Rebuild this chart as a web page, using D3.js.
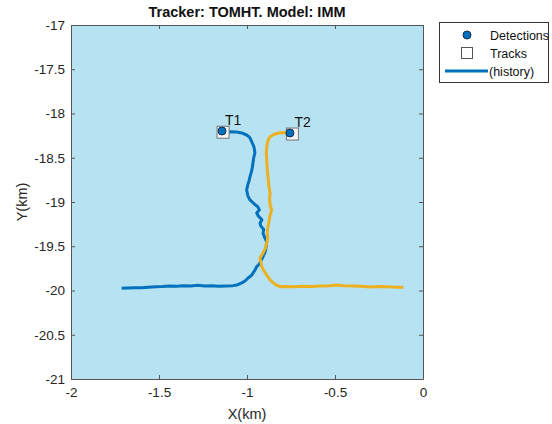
<!DOCTYPE html>
<html>
<head>
<meta charset="utf-8">
<script src="https://cdn.jsdelivr.net/npm/d3@7"></script>
<style>
  body { margin: 0; background: #fff; }
  text { font-family: "Liberation Sans", Arial, sans-serif; }
</style>
</head>
<body>
<svg id="chart" width="552" height="424"></svg>
<script>
// track histories, in km
const track1 = [
  [-1.712,-19.975],[-1.68,-19.972],[-1.64,-19.968],[-1.60,-19.970],[-1.56,-19.962],[-1.52,-19.958],
  [-1.48,-19.955],[-1.44,-19.950],[-1.40,-19.953],[-1.36,-19.945],[-1.32,-19.948],[-1.28,-19.942],
  [-1.24,-19.950],[-1.20,-19.945],[-1.16,-19.952],[-1.12,-19.948],[-1.08,-19.945],[-1.058,-19.938],
  [-1.03,-19.915],[-1.01,-19.89],[-0.994,-19.859],[-0.975,-19.83],[-0.965,-19.80],[-0.952,-19.76],
  [-0.945,-19.731],[-0.93,-19.70],[-0.92,-19.66],[-0.909,-19.618],[-0.898,-19.57],[-0.892,-19.52],
  [-0.888,-19.449],[-0.900,-19.40],[-0.909,-19.350],[-0.905,-19.31],[-0.922,-19.27],[-0.926,-19.237],
  [-0.915,-19.20],[-0.935,-19.16],[-0.945,-19.124],[-0.930,-19.09],[-0.938,-19.056],[-0.960,-19.02],
  [-0.983,-18.977],[-0.995,-18.93],[-1.002,-18.864],[-0.995,-18.80],[-0.988,-18.76],[-0.983,-18.714],
  [-0.975,-18.66],[-0.970,-18.61],[-0.966,-18.559],[-0.962,-18.50],[-0.955,-18.446],[-0.960,-18.38],
  [-0.973,-18.319],[-0.985,-18.27],[-1.002,-18.243],[-1.03,-18.22],[-1.058,-18.209],[-1.10,-18.207],
  [-1.136,-18.209]
]
const track2 = [
  [-0.112,-19.964],[-0.15,-19.962],[-0.2,-19.958],[-0.25,-19.955],[-0.3,-19.960],[-0.35,-19.952],
  [-0.4,-19.948],[-0.45,-19.945],[-0.49,-19.938],[-0.53,-19.945],[-0.58,-19.950],[-0.63,-19.955],
  [-0.68,-19.953],[-0.73,-19.957],[-0.78,-19.955],[-0.813,-19.957],[-0.84,-19.93],[-0.869,-19.881],
  [-0.89,-19.82],[-0.905,-19.77],[-0.916,-19.731],[-0.926,-19.636],[-0.91,-19.58],[-0.895,-19.52],
  [-0.888,-19.463],[-0.882,-19.40],[-0.885,-19.34],[-0.881,-19.279],[-0.875,-19.22],[-0.870,-19.16],
  [-0.860,-19.090],[-0.868,-19.04],[-0.872,-18.97],[-0.869,-18.898],[-0.875,-18.83],[-0.878,-18.77],
  [-0.881,-18.714],[-0.884,-18.65],[-0.886,-18.59],[-0.888,-18.525],[-0.890,-18.45],[-0.888,-18.375],
  [-0.880,-18.30],[-0.869,-18.262],[-0.845,-18.235],[-0.813,-18.217],[-0.78,-18.215],[-0.756,-18.217]
]
const trackNames = ["T1", "T2"]
const detections = [[-1.142,-18.198], [-0.756,-18.220]]
const trackPos = [[-1.136,-18.212], [-0.742,-18.232]]
const xTicks = [-2, -1.5, -1, -0.5, 0]
const yTicks = [-17, -17.5, -18, -18.5, -19, -19.5, -20, -20.5, -21]
const legendLabels = ["Detections", "Tracks", "(history)"]

const colors = ["#0072BD", "#EDB120"]

const svg = d3.select("#chart")
const plot = { left: 71, right: 423, top: 25, bottom: 379 }

const xScale = d3.scaleLinear().domain([-2, 0]).range([plot.left, plot.right])
const yScale = d3.scaleLinear().domain([-21, -17]).range([plot.bottom, plot.top])

// background
svg.append("rect")
  .attr("x", plot.left).attr("y", plot.top)
  .attr("width", plot.right - plot.left).attr("height", plot.bottom - plot.top)
  .attr("fill", "#B7E2F1")

// plain hyphen, as in the original
const fmt = d => String(d)

// axes, ticks inward like matlab
svg.append("g")
  .attr("transform", `translate(0,${plot.bottom})`)
  .call(d3.axisBottom(xScale).tickValues(xTicks).tickSizeInner(-4).tickSizeOuter(0).tickPadding(8).tickFormat(fmt))
svg.append("g")
  .attr("transform", `translate(0,${plot.top})`)
  .call(d3.axisTop(xScale).tickValues(xTicks).tickSizeInner(-4).tickSizeOuter(0).tickFormat(""))
svg.append("g")
  .attr("transform", `translate(${plot.left},0)`)
  .call(d3.axisLeft(yScale).tickValues(yTicks).tickSizeInner(-4).tickSizeOuter(0).tickPadding(6).tickFormat(fmt))
svg.append("g")
  .attr("transform", `translate(${plot.right},0)`)
  .call(d3.axisRight(yScale).tickValues(yTicks).tickSizeInner(-4).tickSizeOuter(0).tickFormat(""))

svg.selectAll(".domain").attr("stroke", "#555")
svg.selectAll(".tick line").attr("stroke", "#555")
svg.selectAll(".tick text").attr("fill", "#262626").style("font-size", "13.5px")
  .style("font-family", "Liberation Sans, Arial, sans-serif")

// labels
svg.append("text").attr("x", (plot.left + plot.right) / 2).attr("y", 17)
  .attr("text-anchor", "middle").style("font-size", "14.5px").style("font-weight", "bold")
  .attr("fill", "#111").text("Tracker: TOMHT. Model: IMM")
svg.append("text").attr("x", (plot.left + plot.right) / 2).attr("y", 419)
  .attr("text-anchor", "middle").style("font-size", "14.5px").attr("fill", "#262626").text("X(km)")
svg.append("text").attr("transform", `translate(27,${(plot.top + plot.bottom) / 2}) rotate(-90)`)
  .attr("text-anchor", "middle").style("font-size", "14.5px").attr("fill", "#262626").text("Y(km)")

// track histories
const line = d3.line().x(d => xScale(d[0])).y(d => yScale(d[1]))
svg.selectAll("path.history")
  .data([track1, track2])
  .enter()
  .append("path")
  .classed("history", true)
  .attr("d", line)
  .attr("fill", "none")
  .attr("stroke", (d, i) => colors[i])
  .attr("stroke-width", 3)
  .attr("stroke-linejoin", "round")

// track squares
svg.selectAll("rect.track")
  .data(trackPos)
  .enter()
  .append("rect")
  .classed("track", true)
  .attr("x", d => xScale(d[0]) - 6)
  .attr("y", d => yScale(d[1]) - 6)
  .attr("width", 12).attr("height", 12)
  .attr("fill", "#f4f4f4")
  .attr("stroke", "#777").attr("stroke-width", 1)

// detections
svg.selectAll("circle.det")
  .data(detections)
  .enter()
  .append("circle")
  .classed("det", true)
  .attr("cx", d => xScale(d[0]))
  .attr("cy", d => yScale(d[1]))
  .attr("r", 4)
  .attr("fill", "#0072BD")
  .attr("stroke", "#1a3050").attr("stroke-width", 1)

svg.selectAll("text.tname")
  .data(trackPos)
  .enter()
  .append("text")
  .classed("tname", true)
  .attr("x", d => xScale(d[0]) + 2)
  .attr("y", d => yScale(d[1]) - 7)
  .style("font-size", "14px")
  .attr("fill", "#111")
  .text((d, i) => trackNames[i])

// legend
const legend = svg.append("g")
legend.append("rect")
  .attr("x", 439.5).attr("y", 22.5).attr("width", 109).attr("height", 60)
  .attr("fill", "#fff").attr("stroke", "#333").attr("stroke-width", 1)
const rowY = [35, 53, 71]
legend.append("circle").attr("cx", 467).attr("cy", rowY[0]).attr("r", 4)
  .attr("fill", "#0072BD").attr("stroke", "#1a3050")
legend.append("rect").attr("x", 461.5).attr("y", rowY[1] - 5.5).attr("width", 11).attr("height", 11)
  .attr("fill", "#fff").attr("stroke", "#555")
legend.append("line").attr("x1", 445).attr("x2", 488).attr("y1", rowY[2]).attr("y2", rowY[2])
  .attr("stroke", "#0072BD").attr("stroke-width", 3)
legend.selectAll("text.leg")
  .data(legendLabels)
  .enter()
  .append("text")
  .classed("leg", true)
  .attr("x", (d, i) => i == 2 ? 489 : 490)
  .attr("y", (d, i) => rowY[i] + 4.5)
  .style("font-size", "12.5px")
  .attr("fill", "#111")
  .text(d => d)
</script>
</body>
</html>
